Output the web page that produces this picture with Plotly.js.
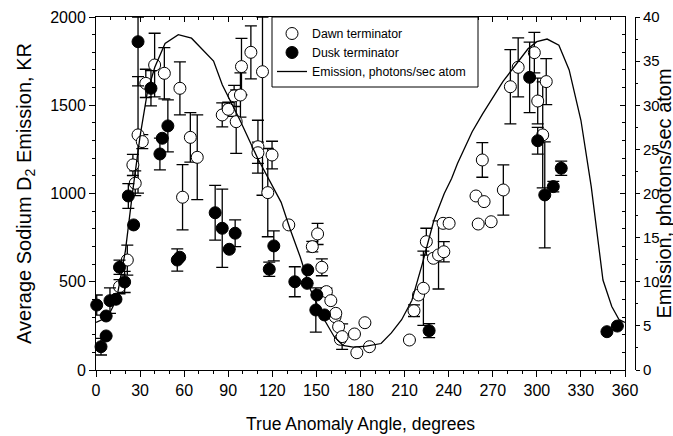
<!DOCTYPE html>
<html>
<head>
<meta charset="utf-8">
<script src="https://cdn.plot.ly/plotly-3.0.1.min.js"></script>
<style>html,body{margin:0;padding:0;background:#fff;}#chart{width:673px;height:436px;}</style>
</head>
<body>
<div id="chart"></div>
<script>
// Dawn terminator (open circles)
const dawnAngle = [16.0,21.3,25.1,26.7,28.6,31.5,33.9,39.9,46.5,57.1,58.9,64.2,68.9,85.9,90.0,94.0,95.4,98.3,99.0,105.4,110.2,110.2,113.3,116.9,119.8,131.2,147.2,150.8,153.7,156.8,159.8,162.7,163.2,165.1,166.3,167.5,175.9,177.5,183.0,186.1,213.3,216.4,219.5,222.8,224.8,229.6,233.1,236.2,236.7,240.3,258.6,260.1,262.9,264.1,268.9,277.2,282.0,287.3,298.3,300.6,304.0,306.4];
const dawnKR    = [472,623,1162,1058,1332,1294,1624,1728,1681,1596,979,1318,1205,1445,1477,1553,1407,1558,1719,1800,1265,1231,1690,1005,1218,822,699,771,582,444,393,302,321,245,174,189,204,98,268,132,170,336,425,463,727,633,652,831,670,831,986,827,1190,954,840,1020,1605,1715,1798,1524,1332,1634];
const dawnErrUp = [40,85,60,70,330,40,80,180,145,150,185,140,240,68,40,60,180,125,160,150,150,60,310,250,78,0,30,60,48,20,0,0,0,0,0,72,0,0,0,0,0,33,0,210,76,0,193,0,57,0,0,0,98,0,0,142,210,167,115,130,300,130];
const dawnErrDn = [40,85,60,70,330,40,80,180,145,150,185,140,240,68,40,60,180,125,160,150,150,60,700,250,78,0,30,60,48,20,0,0,0,0,0,72,0,0,0,0,0,33,0,210,76,0,193,0,57,0,0,0,98,0,0,142,210,167,115,130,300,130];

// Dusk terminator (filled circles)
const duskAngle = [0.5,3.4,6.9,6.9,9.5,13.6,16.0,19.5,22.0,25.6,28.6,37.4,43.5,45.1,48.9,55.3,57.0,81.1,85.9,90.7,94.7,117.9,121.0,135.3,143.7,144.1,149.6,150.3,155.5,226.7,295.1,300.6,305.4,311.2,316.6,347.7,354.8];
const duskKR    = [368,132,193,306,393,401,582,499,986,822,1860,1596,1224,1313,1383,623,639,891,803,684,775,571,703,500,491,567,340,425,312,223,1658,1299,992,1039,1143,217,249];
const duskErrUp = [57,47,0,0,72,0,40,60,70,0,140,100,90,0,147,63,0,155,222,0,76,40,85,85,0,0,125,0,0,40,200,76,300,30,40,0,0];
const duskErrDn = [57,47,0,0,72,0,40,60,70,0,250,100,90,0,147,63,0,155,222,0,76,40,85,85,0,0,125,0,0,40,200,76,300,30,40,0,0];

// Emission curve, photons/sec atom (right axis)
const emisAngle = [0,8,14,20,25,30,35,40,47,56,65,74,80,86,98,110,118,126,132,139,146,155,162,168,175,184,194,201,208,215,222,230,237,242,246,256,263,277,294,300,307,315,322,330,337,342,345,351,356,360];
const emisRate  = [5.4,6.0,8.0,13.5,20.3,26.5,31.5,34.3,37.0,38.0,37.6,36.0,35.0,32.3,28.3,24.0,21.5,19.0,16.0,12.8,9.1,5.8,3.8,2.8,2.6,2.7,3.0,4.2,5.7,7.9,12.0,17.0,20.0,21.7,23.4,27.0,29.0,32.7,36.4,37.2,37.5,36.8,34.0,28.3,20.8,14.0,10.2,7.2,5.7,5.4];

const xTicks = [0,30,60,90,120,150,180,210,240,270,300,330,360];

const FONT = 'Liberation Sans, Arial, sans-serif';
const errStyle = {color:'#000', thickness:1.3, width:6};

// pixel helpers for paper coordinates (plot area 96..625 x, 17..370 y; paper 96..635)
const L = 96, PW = 539, T = 17, PH = 353;
const px = v => (v - L) / PW;
const py = v => (T + PH - v) / PH;

const traces = [
  {x: dawnAngle, y: dawnKR, type:'scatter', mode:'markers', name:'Dawn terminator',
   cliponaxis:false, legendgroup:'a',
   marker:{symbol:'circle', size:12, color:'#fff', line:{color:'#000', width:1}},
   error_y: Object.assign({type:'data', symmetric:false, array:dawnErrUp, arrayminus:dawnErrDn}, errStyle)},
  {x: duskAngle, y: duskKR, type:'scatter', mode:'markers', name:'Dusk terminator',
   cliponaxis:false, legendgroup:'b',
   marker:{symbol:'circle', size:12, color:'#000', line:{color:'#000', width:1}},
   error_y: Object.assign({type:'data', symmetric:false, array:duskErrUp, arrayminus:duskErrDn}, errStyle)},
  {x: emisAngle, y: emisRate, type:'scatter', mode:'lines', name:'Emission, photons/sec atom',
   yaxis:'y2', legendgroup:'c', line:{color:'#000', width:1.3}},
  {x: [], y: [], type:'scatter', mode:'markers', xaxis:'x2', yaxis:'y3', showlegend:false, hoverinfo:'skip'}
];

const dom = [0, (625 - L) / PW];
const layout = {
  width:673, height:436,
  margin:{l:L, r:673 - L - PW, t:T, b:436 - T - PH},
  paper_bgcolor:'#fff', plot_bgcolor:'#fff',
  font:{family:FONT, color:'#000', size:16},
  showlegend:true,
  legend:{x:px(272), y:py(19), xanchor:'left', yanchor:'top', bgcolor:'rgba(0,0,0,0)',
          borderwidth:0, font:{family:FONT, size:12.3, color:'#000'},
          traceorder:'grouped', tracegroupgap:0, itemwidth:30},
  shapes:[{type:'rect', xref:'paper', yref:'paper', x0:px(272), x1:px(478), y0:py(87), y1:py(17),
           line:{color:'#000', width:1}, fillcolor:'#fff', layer:'above'}],
  annotations:[{text:'Emission, photons/sec atom', xref:'paper', yref:'paper', x:px(663), y:0.5,
                xanchor:'center', yanchor:'middle', textangle:-90, showarrow:false,
                font:{family:FONT, size:20, color:'#000'}}],
  xaxis:{domain:dom, range:[0,360], tickvals:xTicks, ticktext:xTicks.map(String),
         ticks:'outside', ticklen:6, tickwidth:1, tickcolor:'#000',
         minor:{dtick:10, tick0:0, ticks:'outside', ticklen:3, tickwidth:1, tickcolor:'#000'},
         showline:true, linecolor:'#000', linewidth:1, showgrid:false, zeroline:false,
         tickfont:{size:16}, anchor:'y',
         title:{text:'True Anomaly Angle, degrees', font:{size:17.5}, standoff:19}},
  xaxis2:{domain:dom, range:[0,360], overlaying:'x', side:'top', anchor:'y',
         dtick:30, tick0:0, ticks:'inside', ticklen:5, tickwidth:1, tickcolor:'#000',
         minor:{dtick:10, tick0:0, ticks:'inside', ticklen:3, tickwidth:1, tickcolor:'#000'},
         showticklabels:false, showline:true, linecolor:'#000', linewidth:1, showgrid:false, zeroline:false},
  yaxis:{range:[0,2000], dtick:500, tick0:0, ticks:'outside', ticklen:6, tickwidth:1, tickcolor:'#000',
         minor:{dtick:100, tick0:0, ticks:'outside', ticklen:3, tickwidth:1, tickcolor:'#000'},
         showline:true, linecolor:'#000', linewidth:1, showgrid:false, zeroline:false,
         tickfont:{size:16}, anchor:'x',
         title:{text:'Average Sodium D<sub>2</sub> Emission, KR', font:{size:20}, standoff:13}},
  yaxis3:{range:[0,2000], overlaying:'y', side:'right', anchor:'x',
         dtick:500, tick0:0, ticks:'inside', ticklen:5, tickwidth:1, tickcolor:'#000',
         minor:{dtick:100, tick0:0, ticks:'inside', ticklen:3, tickwidth:1, tickcolor:'#000'},
         showticklabels:false, showline:true, linecolor:'#000', linewidth:1, showgrid:false, zeroline:false},
  yaxis2:{range:[0,40], overlaying:'y', side:'right', anchor:'free', position:1,
         dtick:5, tick0:0, ticks:'outside', ticklen:4, tickwidth:1, tickcolor:'#000',
         minor:{dtick:2.5, tick0:0, ticks:'outside', ticklen:2, tickwidth:1, tickcolor:'#000'},
         showline:true, linecolor:'#000', linewidth:1, showgrid:false, zeroline:false,
         tickfont:{size:15}}
};

Plotly.newPlot('chart', traces, layout, {staticPlot:true, displayModeBar:false});
</script>
</body>
</html>
